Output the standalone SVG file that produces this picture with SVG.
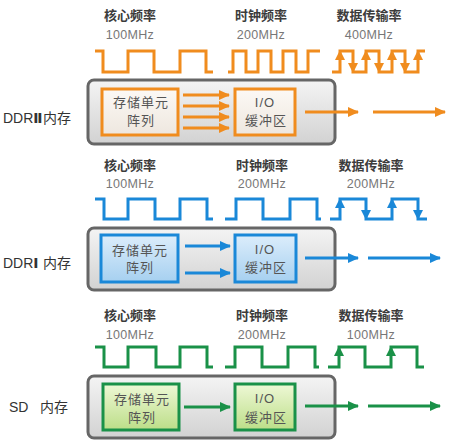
<svg xmlns="http://www.w3.org/2000/svg" width="450" height="443" viewBox="0 0 450 443">
<style>
.t{font-family:"Liberation Sans","Noto Sans CJK SC",sans-serif;font-size:13px;font-weight:bold;fill:#3c3c3c;text-anchor:middle}
.f{font-family:"Liberation Sans","Noto Sans CJK SC",sans-serif;font-size:12.5px;fill:#777;text-anchor:middle;letter-spacing:0.3px}
.b{font-family:"Liberation Sans","Noto Sans CJK SC",sans-serif;font-size:13px;fill:#555;text-anchor:middle;letter-spacing:1px}
.l{font-family:"Liberation Sans","DejaVu Sans","Noto Sans CJK SC",sans-serif;font-size:14px;fill:#333}
.gbox{fill:url(#gg);stroke:#666;stroke-width:3}
.w{fill:none;stroke-width:3}
.o{stroke:#f08c1e}.bl{stroke:#1a88d8}.g{stroke:#1a9148}
.fo{fill:#f08c1e}.fb{fill:#1a88d8}.fg{fill:#1a9148}
</style>
<defs>
<linearGradient id="gg" x1="0" y1="0" x2="0" y2="1"><stop offset="0" stop-color="#f4f4f4"/><stop offset="1" stop-color="#d2d2d2"/></linearGradient>
<linearGradient id="go" x1="0" y1="0" x2="0" y2="1"><stop offset="0" stop-color="#fcf9f5"/><stop offset="1" stop-color="#eee7df"/></linearGradient>
<linearGradient id="gb" x1="0" y1="0" x2="0" y2="1"><stop offset="0" stop-color="#dcedfb"/><stop offset="1" stop-color="#a6d0f0"/></linearGradient>
<linearGradient id="gn" x1="0" y1="0" x2="0" y2="1"><stop offset="0" stop-color="#eef8d6"/><stop offset="1" stop-color="#bcde88"/></linearGradient>
<marker id="ao" markerUnits="userSpaceOnUse" markerWidth="11" markerHeight="10" refX="10" refY="5" orient="auto"><path d="M0,0 L11,5 L0,10 Z" fill="#f08c1e"/></marker>
<marker id="ab" markerUnits="userSpaceOnUse" markerWidth="11" markerHeight="10" refX="10" refY="5" orient="auto"><path d="M0,0 L11,5 L0,10 Z" fill="#1a88d8"/></marker>
<marker id="an" markerUnits="userSpaceOnUse" markerWidth="11" markerHeight="10" refX="10" refY="5" orient="auto"><path d="M0,0 L11,5 L0,10 Z" fill="#1a9148"/></marker>
</defs>
<rect width="450" height="443" fill="#fff"/>

<!-- DDR II section -->
<g id="ddr2-labels">
<text class="t" x="130" y="20">核心频率</text><text class="f" x="130" y="39">100MHz</text>
<text class="t" x="261" y="20">时钟频率</text><text class="f" x="261" y="39">200MHz</text>
<text class="t" x="369" y="20">数据传输率</text><text class="f" x="369" y="39">400MHz</text>
<text class="l" x="3" y="123">DDR<tspan font-weight="bold">Ⅱ</tspan><tspan x="43">内存</tspan></text>
</g>
<g id="ddr2-waves">
<path class="w o" d="M95,51 H103 V72 H128 V51 H154 V72 H180 V51 H206 V72 H213"/>
<path class="w o" d="M228,72 H233 V51 H246 V72 H258 V51 H271 V72 H283 V51 H296 V72 H308 V51 H320"/>
<path class="w o" d="M332,72 H340 V51 H353 V72 H366 V51 H379 V72 H392 V51 H405 V72 H418 V51 H425"/>
<g class="fo">
<path d="M335,60 H345 L340,50 Z"/><path d="M361,60 H371 L366,50 Z"/><path d="M387,60 H397 L392,50 Z"/><path d="M413,60 H423 L418,50 Z"/>
<path d="M348,63 H358 L353,73 Z"/><path d="M374,63 H384 L379,73 Z"/><path d="M400,63 H410 L405,73 Z"/>
</g>
</g>
<g id="ddr2-module"><rect class="gbox" x="88" y="80" width="247" height="64" rx="6"/></g>
<g id="ddr2-array"><rect x="102" y="89" width="76" height="46" fill="url(#go)" stroke="#f08c1e" stroke-width="3"/>
<text class="b" x="141" y="107">存储单元</text><text class="b" x="141" y="125">阵列</text></g>
<g id="ddr2-io"><rect x="235" y="89" width="60" height="46" fill="url(#go)" stroke="#f08c1e" stroke-width="3"/>
<text class="b" x="265" y="107">I/O</text><text class="b" x="266" y="125">缓冲区</text></g>

<!-- DDR I section -->
<g id="ddr1-labels">
<text class="t" x="130" y="170">核心频率</text><text class="f" x="130" y="188">100MHz</text>
<text class="t" x="262" y="170">时钟频率</text><text class="f" x="262" y="188">200MHz</text>
<text class="t" x="371" y="170">数据传输率</text><text class="f" x="371" y="188">200MHz</text>
<text class="l" x="3" y="268">DDR<tspan font-weight="bold">Ⅰ</tspan><tspan x="43">内存</tspan></text>
</g>
<g id="ddr1-waves">
<path class="w bl" d="M95,199 H104 V219 H128 V199 H155 V219 H180 V199 H207 V219 H213"/>
<path class="w bl" d="M225,219 H236 V199 H263 V219 H290 V199 H317 V219 H321"/>
<path class="w bl" d="M330,219 H340 V199 H366 V219 H392 V199 H418 V219 H427"/>
<g class="fb">
<path d="M335,208 H345 L340,198 Z"/><path d="M387,208 H397 L392,198 Z"/>
<path d="M361,210 H371 L366,220 Z"/><path d="M413,210 H423 L418,220 Z"/>
</g>
</g>
<g id="ddr1-module"><rect class="gbox" x="88" y="228" width="247" height="62" rx="6"/></g>
<g id="ddr1-array"><rect x="101" y="235" width="77" height="47" fill="url(#gb)" stroke="#1a88d8" stroke-width="3"/>
<text class="b" x="140" y="255">存储单元</text><text class="b" x="140" y="272">阵列</text></g>
<g id="ddr1-io"><rect x="235" y="235" width="61" height="47" fill="url(#gb)" stroke="#1a88d8" stroke-width="3"/>
<text class="b" x="265" y="254">I/O</text><text class="b" x="266" y="272">缓冲区</text></g>

<!-- SD section -->
<g id="sd-labels">
<text class="t" x="130" y="320">核心频率</text><text class="f" x="130" y="339">100MHz</text>
<text class="t" x="262" y="320">时钟频率</text><text class="f" x="262" y="339">200MHz</text>
<text class="t" x="371" y="320">数据传输率</text><text class="f" x="371" y="339">100MHz</text>
<text class="l" x="9" y="412">SD<tspan x="40">内存</tspan></text>
</g>
<g id="sd-waves">
<path class="w g" d="M95,347 H104 V367 H128 V347 H156 V367 H180 V347 H207 V367 H213"/>
<path class="w g" d="M225,367 H235 V347 H262 V367 H288 V347 H315 V367 H319"/>
<path class="w g" d="M328,367 H339 V347 H365 V367 H391 V347 H417 V367 H424"/>
<g class="fg">
<path d="M334,356 H344 L339,346 Z"/><path d="M386,356 H396 L391,346 Z"/>
</g>
</g>
<g id="sd-module"><rect class="gbox" x="88" y="376" width="247" height="62" rx="6"/></g>
<g id="sd-array"><rect x="103" y="384" width="76" height="46" fill="url(#gn)" stroke="#1a9148" stroke-width="3"/>
<text class="b" x="142" y="404">存储单元</text><text class="b" x="142" y="422">阵列</text></g>
<g id="sd-io"><rect x="235" y="384" width="60" height="46" fill="url(#gn)" stroke="#1a9148" stroke-width="3"/>
<text class="b" x="265" y="403">I/O</text><text class="b" x="266" y="422">缓冲区</text></g>

<g id="connectors" fill="none" stroke-width="3">
<g stroke="#f08c1e" marker-end="url(#ao)">
<path d="M183,95 H229"/><path d="M183,106 H229"/><path d="M183,117 H229"/><path d="M183,128 H229"/>
<path d="M305,112 H358"/><path d="M373,112 H445"/>
</g>
<g stroke="#1a88d8" marker-end="url(#ab)">
<path d="M185,246 H230"/><path d="M185,273 H230"/>
<path d="M305,258 H358"/><path d="M368,258 H440"/>
</g>
<g stroke="#1a9148" marker-end="url(#an)">
<path d="M184,407 H230"/>
<path d="M305,406 H358"/><path d="M368,406 H440"/>
</g>
</g>
</svg>
